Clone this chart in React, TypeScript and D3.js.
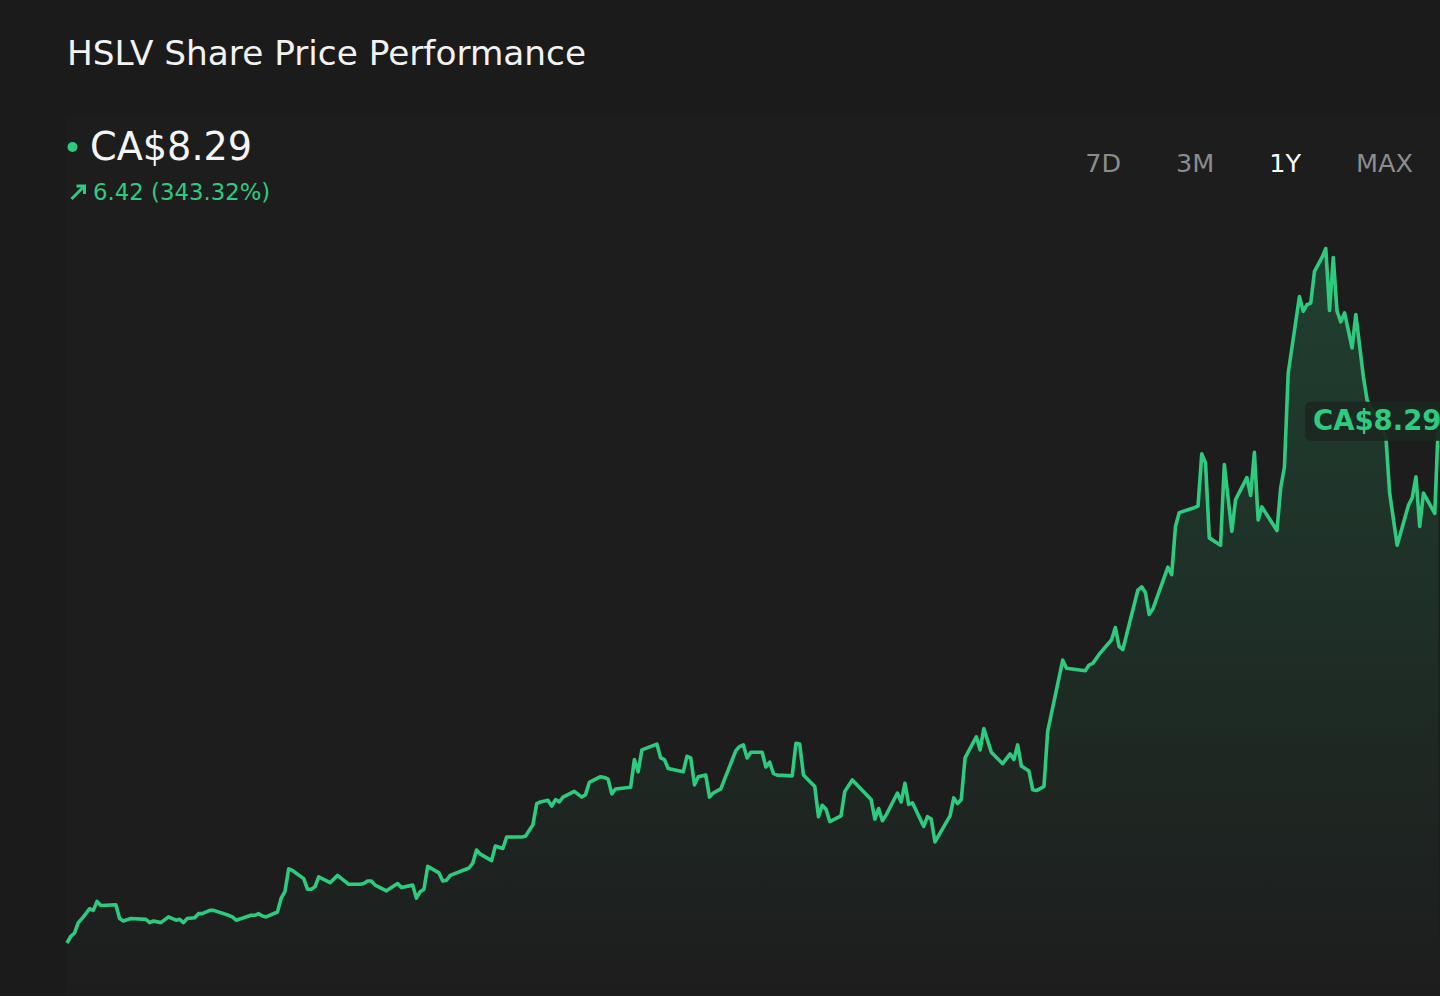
import React from "react";
import * as d3 from "d3";

// trading-day offsets from the start of the 1Y window, and closing prices (CA$)
const dayOffsets = [
  0, 1, 2, 3, 4, 6, 7, 8, 9, 13,
  14, 15, 17, 21, 22, 23, 25, 27, 29, 30,
  31, 32, 34, 35, 36, 38, 39, 43, 44, 45,
  49, 50, 51, 52, 53, 56, 57, 58, 59, 60,
  63, 64, 65, 66, 67, 70, 72, 75, 78, 79,
  80, 81, 82, 85, 88, 89, 92, 93, 94, 95,
  96, 99, 100, 101, 102, 107, 108, 109, 110, 113,
  114, 116, 117, 121, 122, 123, 124, 125, 126, 128,
  129, 130, 131, 132, 135, 137, 138, 139, 142, 143,
  144, 145, 146, 150, 151, 152, 153, 157, 158, 159,
  160, 164, 165, 166, 167, 168, 170, 171, 172, 174,
  178, 179, 180, 181, 182, 185, 186, 187, 188, 189,
  193, 194, 195, 196, 199, 200, 201, 202, 203, 206,
  207, 209, 214, 215, 216, 217, 218, 221, 222, 223,
  224, 225, 228, 229, 230, 231, 235, 236, 237, 238,
  239, 242, 243, 244, 246, 249, 251, 252, 253, 254,
  256, 257, 258, 260, 261, 265, 266, 271, 272, 273,
  275, 278, 279, 280, 281, 285, 286, 287, 288, 289,
  293, 294, 295, 296, 300, 301, 302, 303, 304, 307,
  308, 310, 311, 314, 315, 316, 317, 318, 322, 323,
  324, 325, 328, 329, 330, 331, 332, 334, 335, 336,
  337, 338, 339, 340, 342, 343, 345, 346, 351, 352,
  354, 357, 358, 359, 360, 361, 364, 365,
];

const closePrices = [
  1.87, 1.95, 1.99, 2.12, 2.17, 2.29, 2.27, 2.38, 2.33, 2.34,
  2.17, 2.14, 2.17, 2.16, 2.12, 2.14, 2.12, 2.19, 2.15, 2.16,
  2.12, 2.17, 2.18, 2.23, 2.23, 2.27, 2.27, 2.21, 2.19, 2.15,
  2.21, 2.21, 2.23, 2.2, 2.19, 2.25, 2.42, 2.5, 2.78, 2.76,
  2.66, 2.53, 2.53, 2.56, 2.68, 2.61, 2.7, 2.59, 2.59, 2.6,
  2.63, 2.63, 2.58, 2.51, 2.6, 2.55, 2.58, 2.42, 2.5, 2.53,
  2.81, 2.73, 2.63, 2.64, 2.7, 2.79, 2.85, 3.01, 2.96, 2.88,
  3.06, 3.03, 3.17, 3.17, 3.18, 3.25, 3.32, 3.58, 3.6, 3.62,
  3.55, 3.63, 3.6, 3.66, 3.73, 3.66, 3.69, 3.84, 3.91, 3.9,
  3.88, 3.7, 3.76, 3.78, 4.12, 3.97, 4.24, 4.31, 4.14, 4.12,
  4.01, 3.97, 4.16, 4.14, 3.81, 3.91, 3.93, 3.66, 3.71, 3.76,
  4.23, 4.28, 4.3, 4.14, 4.21, 4.21, 4.03, 4.09, 3.95, 3.93,
  3.92, 4.32, 4.31, 3.93, 3.79, 3.42, 3.56, 3.51, 3.36, 3.43,
  3.73, 3.87, 3.63, 3.39, 3.52, 3.37, 3.44, 3.71, 3.6, 3.83,
  3.57, 3.59, 3.3, 3.42, 3.39, 3.11, 3.43, 3.65, 3.58, 3.63,
  4.14, 4.4, 4.24, 4.5, 4.21, 4.07, 4.19, 4.12, 4.3, 4.04,
  3.98, 3.75, 3.74, 3.79, 4.47, 5.34, 5.24, 5.21, 5.28, 5.3,
  5.43, 5.59, 5.74, 5.51, 5.47, 6.2, 6.24, 6.17, 5.9, 5.97,
  6.48, 6.39, 6.98, 7.15, 7.21, 7.23, 7.87, 7.76, 6.84, 6.75,
  7.74, 6.92, 7.31, 7.58, 7.36, 7.89, 7.06, 7.22, 6.93, 7.45,
  7.71, 8.86, 9.8, 9.62, 9.7, 9.72, 10.11, 10.28, 10.39, 9.63,
  10.28, 9.62, 9.49, 9.6, 9.17, 9.58, 8.82, 8.53, 8.08, 7.39,
  6.75, 7.24, 7.33, 7.59, 6.98, 7.39, 7.14, 8.29,
];

const ranges = ["7D", "3M", "1Y", "MAX"];
const activeRange = "1Y";

const W = 1440;
const H = 996;
const GREEN = "#2ecb7f";
const FONT = "'DejaVu Sans', Verdana, sans-serif";

// rough DejaVu Sans advance widths (em) for the range buttons
const glyphW: Record<string, number> = { "7": 0.636, "3": 0.636, "1": 0.636, D: 0.77, M: 0.863, Y: 0.611, A: 0.684, X: 0.685 };
const textWidth = (s: string, size: number) => s.split("").reduce((a, c) => a + (glyphW[c] ?? 0.6), 0) * size;

const App = () => {
  const data = d3.zip(dayOffsets, closePrices).map(([d, p]) => ({ day: d, price: p }));
  const first = data[0].price;
  const last = data[data.length - 1].price;
  const change = last - first;
  const changePct = (change / first) * 100;

  const x = d3.scaleLinear().domain([0, 365]).range([67, 1438.5]);
  const y = d3
    .scaleLinear()
    .domain(d3.extent(closePrices) as [number, number])
    .range([943, 248.5]);

  const line = d3
    .line<{ day: number; price: number }>()
    .x((d) => x(d.day))
    .y((d) => y(d.price));

  const area = d3
    .area<{ day: number; price: number }>()
    .x((d) => x(d.day))
    .y0(H)
    .y1((d) => y(d.price));

  // range buttons: right aligned, fixed gap between labels
  const btnSize = 25.5;
  const btnGap = 55;
  let cursor = 1413;
  const btnPos: Record<string, number> = {};
  [...ranges].reverse().forEach((r) => {
    const w = textWidth(r, btnSize);
    btnPos[r] = cursor - w;
    cursor = cursor - w - btnGap;
  });

  const labelY = y(last);

  return (
    <div style={{ position: "fixed", left: 0, top: 0, width: W, height: H, overflow: "hidden", background: "#1b1b1b" }}>
      <svg width={W} height={H} style={{ display: "block", fontFamily: FONT }}>
        <defs>
          <linearGradient id="areaFill" gradientUnits="userSpaceOnUse" x1="0" y1={y.range()[1]} x2="0" y2={H}>
            <stop offset="0%" stopColor={GREEN} stopOpacity={0.2} />
            <stop offset="100%" stopColor={GREEN} stopOpacity={0.0} />
          </linearGradient>
        </defs>
        <rect width={W} height={H} fill="#1b1b1b" />
        <rect x={67} y={117} width={W - 67} height={H - 117} fill="#ffffff" fillOpacity={0.012} />

        <text x={67} y={65} fill="#f2f2f2" fontSize={34.3}>
          HSLV Share Price Performance
        </text>

        <circle cx={72.5} cy={147} r={5} fill={GREEN} />
        <text x={90} y={160} fill="#f5f5f5" fontSize={38.2}>
          {`CA$${last.toFixed(2)}`}
        </text>
        <path d="M71.5,199 L84.5,186 M76.5,186 L84.5,186 L84.5,194" stroke={GREEN} strokeWidth={3} fill="none" />
        <text x={93} y={200} fill={GREEN} fontSize={22.8}>
          {`${change.toFixed(2)} (${changePct.toFixed(2)}%)`}
        </text>

        {ranges.map((r) => (
          <text key={r} x={btnPos[r]} y={172} fontSize={btnSize} fill={r === activeRange ? "#ffffff" : "#8c8c8c"}>
            {r}
          </text>
        ))}

        <path d={area(data) ?? ""} fill="url(#areaFill)" />
        <path d={line(data) ?? ""} fill="none" stroke={GREEN} strokeWidth={3.6} strokeLinejoin="round" />

        <rect x={1305} y={labelY - 18} width={150} height={39} rx={6} fill="#1c2721" fillOpacity={0.95} />
        <text x={1313} y={labelY + 10} fill={GREEN} fontSize={27.5} fontWeight="bold">
          {`CA$${last.toFixed(2)}`}
        </text>
      </svg>
    </div>
  );
};

export default App;
